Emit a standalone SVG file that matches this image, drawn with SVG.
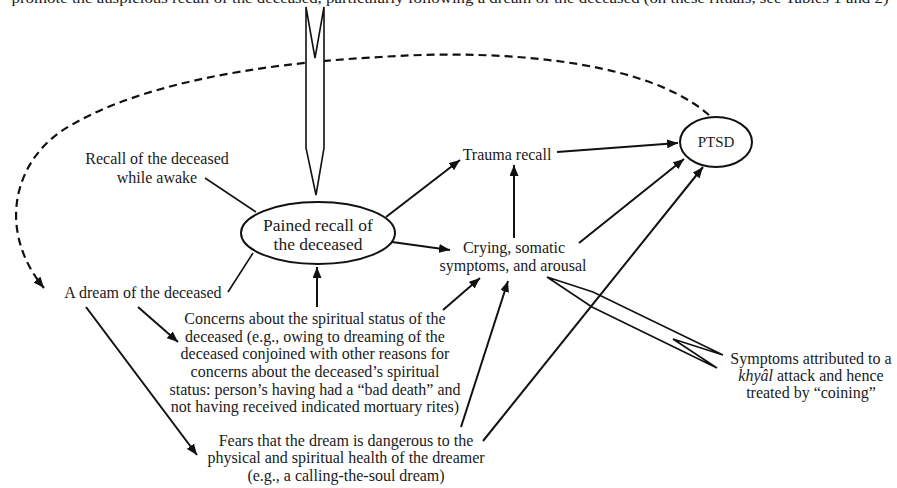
<svg xmlns="http://www.w3.org/2000/svg" width="897" height="488" viewBox="0 0 897 488">
<style>
text{font-family:"Liberation Serif","DejaVu Serif",serif;fill:#1a1a1a;font-size:16px;text-anchor:middle}
.big{font-size:17.5px}
.c{fill:none;stroke:#111;stroke-width:2}
.thin{fill:none;stroke:#111;stroke-width:1.6}
.open{fill:#fff;stroke:#111;stroke-width:1.6;stroke-linejoin:miter}
.node{fill:#fff;stroke:#111;stroke-width:2}
.dash{fill:none;stroke:#111;stroke-width:2.2;stroke-dasharray:8 5}
</style>
<defs>
<marker id="ah" markerUnits="userSpaceOnUse" markerWidth="11" markerHeight="9" refX="11" refY="4.5" orient="auto">
<path d="M0,0 L11,4.5 L0,9 z" fill="#111"/>
</marker>
</defs>
<rect width="897" height="488" fill="#fff"/>
<text x="450" y="3" textLength="877" lengthAdjust="spacingAndGlyphs" style="font-size:15px">promote the auspicious recall of the deceased, particularly following a dream of the deceased (on these rituals, see Tables 1 and 2)</text>
<g id="connectors">
<path class="dash" d="M709,115 C640,55 480,50 380,57 C250,64 130,86 60,132 C10,168 0,235 44,288" marker-end="url(#ah)"/>
<polygon class="open" points="306,7 315,58 324,7 324,148 316,195 306,148"/>
<polygon class="open" points="547,277 593,292 723,355 673,339 717,368 592,307"/>
<line class="thin" x1="205" y1="178" x2="256" y2="212"/>
<line class="thin" x1="228" y1="292" x2="253" y2="253"/>
<line class="c" x1="386" y1="217" x2="460" y2="160" marker-end="url(#ah)"/>
<line class="c" x1="557" y1="152" x2="678" y2="143" marker-end="url(#ah)"/>
<line class="c" x1="392" y1="242" x2="450" y2="250" marker-end="url(#ah)"/>
<line class="c" x1="514" y1="238" x2="514" y2="165" marker-end="url(#ah)"/>
<line class="c" x1="579" y1="243" x2="684" y2="159" marker-end="url(#ah)"/>
<line class="c" x1="483" y1="441" x2="703" y2="167" marker-end="url(#ah)"/>
<line class="c" x1="461" y1="427" x2="508" y2="281" marker-end="url(#ah)"/>
<line class="c" x1="443" y1="310" x2="480" y2="278" marker-end="url(#ah)"/>
<line class="c" x1="317" y1="307" x2="317" y2="267" marker-end="url(#ah)"/>
<line class="c" x1="138" y1="307" x2="178" y2="342" marker-end="url(#ah)"/>
<line class="c" x1="86" y1="307" x2="197" y2="455" marker-end="url(#ah)"/>
</g>
<g id="pained">
<ellipse class="node" cx="318" cy="233" rx="77" ry="31"/>
<text class="big" x="318" y="231">Pained recall of</text>
<text class="big" x="318" y="250">the deceased</text>
</g>
<g id="ptsd">
<ellipse class="node" cx="716" cy="142" rx="36" ry="25"/>
<text x="716" y="147" style="font-size:15px">PTSD</text>
</g>
<g id="recall-awake">
<text x="157" y="164">Recall of the deceased</text>
<text x="157" y="183">while awake</text>
</g>
<g id="dream">
<text x="143" y="298">A dream of the deceased</text>
</g>
<g id="trauma">
<text x="507" y="160">Trauma recall</text>
</g>
<g id="crying">
<text x="514" y="253">Crying, somatic</text>
<text x="513" y="271">symptoms, and arousal</text>
</g>
<g id="concerns">
<text x="315" y="324">Concerns about the spiritual status of the</text>
<text x="315" y="342">deceased (e.g., owing to dreaming of the</text>
<text x="315" y="359">deceased conjoined with other reasons for</text>
<text x="315" y="377">concerns about the deceased’s spiritual</text>
<text x="315" y="395">status: person’s having had a “bad death” and</text>
<text x="315" y="412">not having received indicated mortuary rites)</text>
</g>
<g id="fears">
<text x="346" y="446">Fears that the dream is dangerous to the</text>
<text x="346" y="463">physical and spiritual health of the dreamer</text>
<text x="346" y="481">(e.g., a calling-the-soul dream)</text>
</g>
<g id="khyal">
<text x="811" y="364">Symptoms attributed to a</text>
<text x="811" y="381"><tspan font-style="italic">khyâl</tspan> attack and hence</text>
<text x="811" y="398">treated by “coining”</text>
</g>
</svg>
